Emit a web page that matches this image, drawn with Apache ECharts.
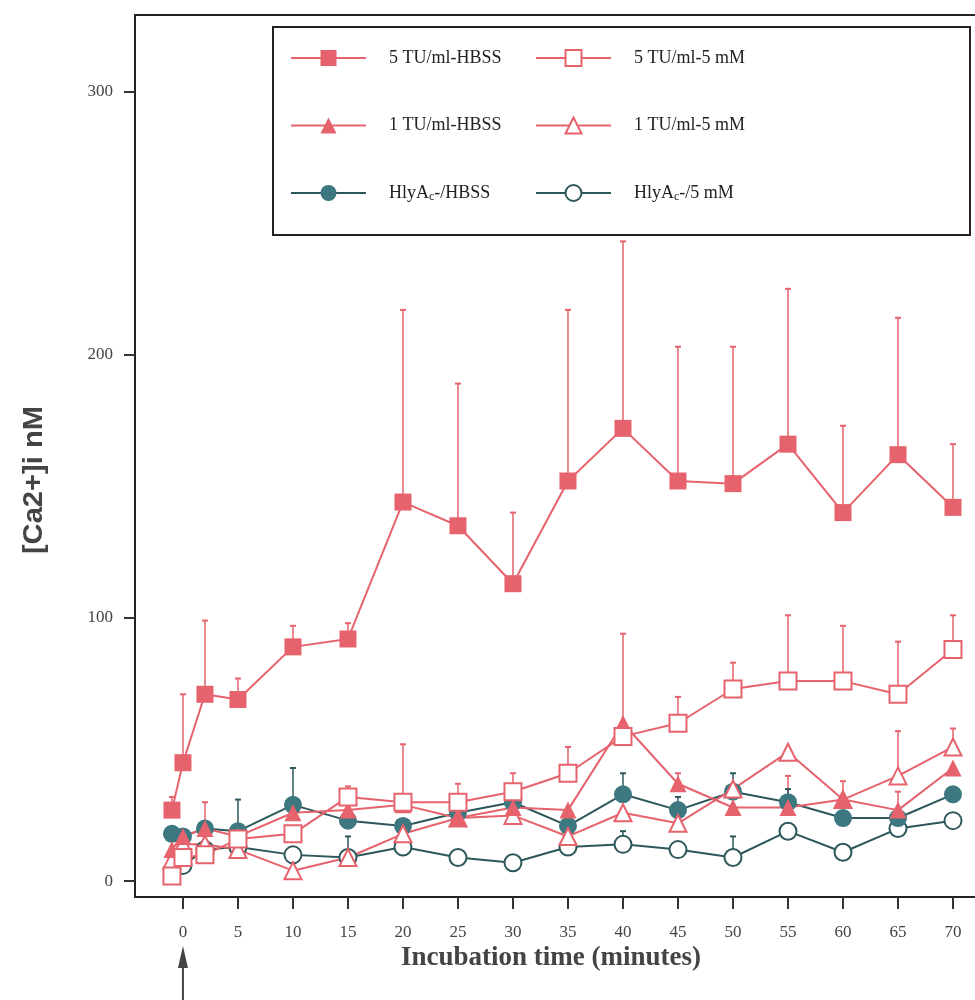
<!DOCTYPE html>
<html><head><meta charset="utf-8">
<script src="https://cdn.jsdelivr.net/npm/echarts@6/dist/echarts.min.js"></script>
<style>html,body{margin:0;padding:0;background:#fff}#c{width:975px;height:1000px}</style>
</head><body><div id="c"></div>
<script>
// ---- data ----
const times = [-1, 0, 2, 5, 10, 15, 20, 25, 30, 35, 40, 45, 50, 55, 60, 65, 70];
const xTicks = [0, 5, 10, 15, 20, 25, 30, 35, 40, 45, 50, 55, 60, 65, 70];
const yTicks = [0, 100, 200, 300];

const tu5Hbss    = [27, 45, 71, 69, 89, 92, 144, 135, 113, 152, 172, 152, 151, 166, 140, 162, 142];
const tu5HbssTop = [32, 71, 99, 77, 97, 98, 217, 189, 140, 217, 243, 203, 203, 225, 173, 214, 166];

const tu5mM      = [2, 9, 10, 16, 18, 32, 30, 30, 34, 41, 55, 60, 73, 76, 76, 71, 88];
const tu5mMTop   = [null, null, null, null, null, 36, 52, 37, 41, 51, null, 70, 83, 101, 97, 91, 101];

const tu1Hbss    = [12, 17, 20, 17, 26, 27, 29, 24, 28, 27, 60, 37, 28, 28, 31, 27, 43];
const tu1HbssTop = [null, null, 30, null, null, null, null, null, null, null, 94, 41, null, 40, 38, 34, null];

const tu1mM      = [8, 14, 14, 12, 4, 9, 18, 24, 25, 17, 26, 22, 35, 49, 31, 40, 51];
const tu1mMTop   = [null, null, null, null, null, null, null, null, null, null, null, null, null, null, null, 57, 58];

const hlyHbss    = [18, 17, 20, 19, 29, 23, 21, 26, 30, 21, 33, 27, 34, 30, 24, 24, 33];
const hlyHbssTop = [null, null, null, 31, 43, null, null, null, null, null, 41, 32, 41, 35, null, null, null];

const hly5mM     = [null, 6, 12, 13, 10, 9, 13, 9, 7, 13, 14, 12, 9, 19, 11, 20, 23];
const hly5mMTop  = [null, null, null, null, null, 17, null, null, null, null, 19, null, 17, null, null, null, null];

const names = ['5 TU/ml-HBSS', '5 TU/ml-5 mM', '1 TU/ml-HBSS', '1 TU/ml-5 mM', 'HlyAc-/HBSS', 'HlyAc-/5 mM'];

// ---- styles ----
const RED = '#e6626c';
const TEAL_FILL = '#3d7881';
const TEAL_LINE = '#2d585b';
const SERIF = "'Liberation Serif', 'DejaVu Serif', serif";

function pairs(vals) {
  return times.map((t, i) => vals[i] == null ? null : [t, vals[i]]).filter(Boolean);
}
function errs(vals, tops) {
  return times.map((t, i) => (vals[i] == null || tops[i] == null) ? null : [t, vals[i], tops[i]]).filter(Boolean);
}
function errRender(color) {
  return function (params, api) {
    const p0 = api.coord([api.value(0), api.value(1)]);
    const p1 = api.coord([api.value(0), api.value(2)]);
    return {
      type: 'group',
      children: [
        { type: 'line', shape: { x1: p0[0], y1: p0[1], x2: p1[0], y2: p1[1] }, style: { stroke: color, lineWidth: 1.5 } },
        { type: 'line', shape: { x1: p1[0] - 3, y1: p1[1], x2: p1[0] + 3, y2: p1[1] }, style: { stroke: color, lineWidth: 2 } }
      ]
    };
  };
}
function lineSeries(name, vals, symbol, size, color, lineColor) {
  return {
    name: name, type: 'line', data: pairs(vals),
    symbol: symbol, symbolSize: size,
    itemStyle: { color: color, borderColor: color, borderWidth: symbol.indexOf('empty') === 0 ? 2 : 0 },
    lineStyle: { color: lineColor || color, width: 2 },
    emphasis: { disabled: true }, animation: false, z: 3
  };
}
function errSeries(vals, tops, color) {
  return {
    type: 'custom', data: errs(vals, tops), renderItem: errRender(color),
    encode: { x: 0, y: [1, 2] }, animation: false, z: 2, silent: true
  };
}

const legendRich = {
  sp: { width: 18 },
  sub: { fontSize: 12, fontFamily: SERIF, color: '#222', padding: [8, 0, 0, 0] }
};
function legendFmt(name) {
  return '{sp|}' + name.replace('HlyAc', 'HlyA{sub|c}');
}
const legendBase = {
  orient: 'vertical', top: 48, padding: 0, itemWidth: 75, itemHeight: 20, itemGap: 47.5,
  selectedMode: false, formatter: legendFmt,
  textStyle: { fontFamily: SERIF, fontSize: 18, color: '#222', lineHeight: 20, rich: legendRich }
};

const XMIN = -4.36, XMAX = 72.0;
const chart = echarts.init(document.getElementById('c'), null, { renderer: 'canvas' });
const option = {
  backgroundColor: '#fff',
  animation: false,
  grid: { left: 135, top: 15, right: 0, bottom: 103, show: false },
  xAxis: [{
    type: 'value', min: XMIN, max: XMAX,
    axisLine: { show: true, onZero: false, lineStyle: { color: '#222', width: 2 } },
    axisTick: { show: true, length: 12, inside: false, customValues: xTicks, lineStyle: { color: '#333', width: 2 } },
    axisLabel: { customValues: xTicks, margin: 27, fontFamily: SERIF, fontSize: 17, color: '#444' },
    splitLine: { show: false }
  }, {
    type: 'value', position: 'top', min: XMIN, max: XMAX,
    axisLine: { show: true, onZero: false, lineStyle: { color: '#222', width: 2 } },
    axisTick: { show: false }, axisLabel: { show: false }, splitLine: { show: false }
  }],
  yAxis: {
    type: 'value', min: -6, max: 329,
    axisLine: { show: true, onZero: false, lineStyle: { color: '#222', width: 2 } },
    axisTick: { show: true, length: 11, customValues: yTicks, lineStyle: { color: '#333', width: 2 } },
    axisLabel: { customValues: yTicks, margin: 22, fontFamily: SERIF, fontSize: 17, color: '#444' },
    splitLine: { show: false }
  },
  legend: [
    Object.assign({}, legendBase, { left: 290, data: [names[0], names[2], names[4]] }),
    Object.assign({}, legendBase, { left: 535, data: [names[1], names[3], names[5]] })
  ],
  graphic: [
    { type: 'rect', shape: { x: 273, y: 27, width: 697, height: 208 }, style: { fill: '#fff', stroke: '#222', lineWidth: 2 }, z: 1 },
    { type: 'text', x: 551, y: 958, style: { text: 'Incubation time (minutes)', fontFamily: SERIF, fontWeight: 'bold', fontSize: 27, fill: '#444', align: 'center', verticalAlign: 'middle' }, z: 5 },
    { type: 'text', x: 35, y: 480, rotation: Math.PI / 2, scaleX: 1.08, style: { text: '[Ca2+]i nM', fontFamily: "'Liberation Sans', Arial, sans-serif", fontWeight: 'bold', fontSize: 27, fill: '#444', align: 'center', verticalAlign: 'middle' }, z: 5 }
  ],
  series: [
    errSeries(tu5Hbss, tu5HbssTop, RED),
    errSeries(tu5mM, tu5mMTop, RED),
    errSeries(tu1Hbss, tu1HbssTop, RED),
    errSeries(tu1mM, tu1mMTop, RED),
    errSeries(hlyHbss, hlyHbssTop, TEAL_LINE),
    errSeries(hly5mM, hly5mMTop, TEAL_LINE),
    lineSeries(names[5], hly5mM, 'emptyCircle', 17, TEAL_LINE, TEAL_LINE),
    lineSeries(names[4], hlyHbss, 'circle', 18, TEAL_FILL, TEAL_LINE),
    lineSeries(names[3], tu1mM, 'emptyTriangle', 17, RED),
    lineSeries(names[2], tu1Hbss, 'triangle', 17, RED),
    lineSeries(names[1], tu5mM, 'emptyRect', 17, RED),
    lineSeries(names[0], tu5Hbss, 'rect', 17, RED)
  ]
};
chart.setOption(option);

// arrow annotation marking time 0 (positioned from the axis scale)
const px0 = chart.convertToPixel({ xAxisIndex: 0 }, 0);
chart.setOption({
  graphic: option.graphic.concat([
    { type: 'line', shape: { x1: px0, y1: 962, x2: px0, y2: 1000 }, style: { stroke: '#444', lineWidth: 2 }, z: 5 },
    { type: 'polygon', shape: { points: [[px0, 946], [px0 - 5, 968], [px0 + 5, 968]] }, style: { fill: '#444' }, z: 5 }
  ])
}, { replaceMerge: ['graphic'] });
</script>
</body></html>
